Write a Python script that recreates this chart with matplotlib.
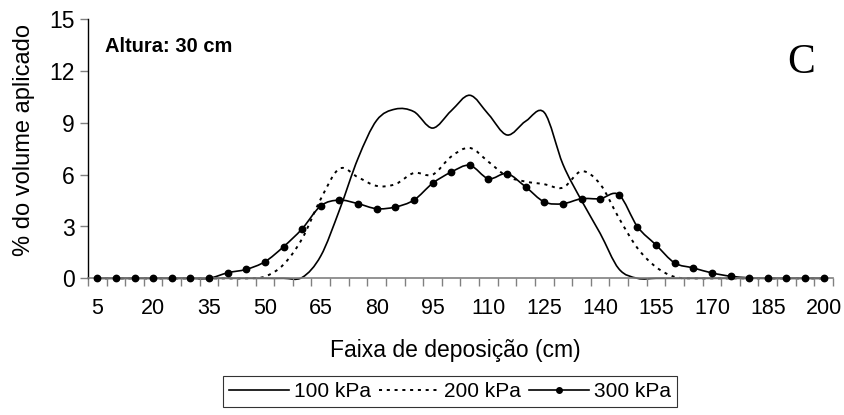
import numpy as np
import matplotlib
matplotlib.use("Agg")
import matplotlib.pyplot as plt
from matplotlib.path import Path
from matplotlib.patches import PathPatch
from matplotlib.lines import Line2D

plt.rcParams['font.family'] = ['Liberation Sans', 'DejaVu Sans']
plt.rcParams['lines.scale_dashes'] = False

# faixa de deposicao (cm), one category every 5 cm
faixa = list(range(5, 205, 5))

p100 = [0, 0, 0, 0, 0, 0, 0, 0, 0, 0, 0,
        0.05, 1.3, 3.95, 6.95, 9.15, 9.8, 9.65, 8.7, 9.7, 10.6,
        9.5, 8.3, 9.1, 9.6, 6.6, 4.5, 2.6, 0.55,
        0, 0, 0, 0, 0, 0, 0, 0, 0, 0, 0]
p200 = [0, 0, 0, 0, 0, 0, 0, 0, 0,
        0.1, 0.8, 2.3, 4.6, 6.35, 5.85, 5.35, 5.45, 6.1, 6.0, 7.05,
        7.55, 6.75, 5.9, 5.6, 5.45, 5.25, 6.2, 5.45, 3.5, 1.75,
        0.65, 0.08,
        0, 0, 0, 0, 0, 0, 0, 0]
p300 = [0, 0, 0, 0, 0, 0, 0,
        0.32, 0.52, 0.96, 1.83, 2.87, 4.2, 4.53, 4.32, 4.03, 4.13,
        4.53, 5.5, 6.15, 6.54, 5.77, 6.06, 5.29, 4.42, 4.32, 4.61,
        4.61, 4.84, 2.99, 1.93, 0.89, 0.6, 0.31, 0.12, 0.03,
        0, 0, 0, 0]

series_names = ['100 kPa', '200 kPa', '300 kPa']
tick_every = 3


def smooth_path(xs, ys):
    # excel-like smoothed line: cubic bezier through every point
    pts = np.column_stack([xs, ys]).astype(float)
    n = len(pts)
    verts = [pts[0]]
    codes = [Path.MOVETO]
    for i in range(n - 1):
        p0 = pts[i - 1] if i > 0 else pts[i]
        p1 = pts[i]
        p2 = pts[i + 1]
        p3 = pts[i + 2] if i + 2 < n else pts[i + 1]
        verts += [p1 + (p2 - p0) / 6, p2 - (p3 - p1) / 6, p2]
        codes += [Path.CURVE4] * 3
    return Path(verts, codes)


W, H = 845, 415
fig = plt.figure(figsize=(W / 100, H / 100), dpi=100)
ax = fig.add_axes([88 / W, 1 - 278.3 / H, 745 / W, 259 / H])

xi = np.arange(len(faixa))
dash = (0, (2.2, 3.4))

ax.add_patch(PathPatch(smooth_path(xi, p100), fill=False, lw=1.2,
                       edgecolor='black', clip_on=False))
ax.add_patch(PathPatch(smooth_path(xi, p200), fill=False, lw=1.4,
                       edgecolor='black', linestyle=dash, clip_on=False))
ax.add_patch(PathPatch(smooth_path(xi, p300), fill=False, lw=1.2,
                       edgecolor='black', clip_on=False))
ax.plot(xi, p300, 'o', color='black', ms=4.6, clip_on=False, zorder=5)

ax.set_xlim(-0.5, len(faixa) - 0.5)
ax.set_ylim(0, 15)
ax.set_yticks(range(0, 16, 3))

ax.set_xticks(xi[::tick_every])
ax.set_xticklabels([str(v) for v in faixa[::tick_every]], fontsize=15.5)
ax.set_xticks(np.arange(-0.5, len(faixa), 1), minor=True)
ax.tick_params(axis='x', which='major', length=0, pad=14)
ax.tick_params(axis='x', which='minor', length=6, width=1, color='#808080', direction='out')
ax.tick_params(axis='y', length=6, width=1, color='#808080', labelsize=16.5, pad=3.6)

for s in ['top', 'right']:
    ax.spines[s].set_visible(False)
ax.spines['bottom'].set_color('#808080')
ax.spines['bottom'].set_linewidth(1.2)
ax.spines['left'].set_color('black')
ax.spines['left'].set_linewidth(1.0)

fig.text(24 / W, 1 - 140.5 / H, '% do volume aplicado', rotation=90,
         ha='center', va='center', fontsize=17)
fig.text(455 / W, 1 - 357 / H, 'Faixa de deposição (cm)', ha='center',
         va='baseline', fontsize=16.5)
fig.text(105 / W, 1 - 51.7 / H, 'Altura: 30 cm', fontweight='bold',
         fontsize=14.5, va='baseline')
fig.text(801 / W, 1 - 73 / H, 'C', family='Liberation Serif', fontsize=30,
         ha='center', va='baseline')

handles = [Line2D([], [], color='black', lw=1.2),
           Line2D([], [], color='black', lw=1.4, linestyle=dash),
           Line2D([], [], color='black', lw=1.2, marker='o', ms=4)]
leg = fig.legend(handles, series_names, loc='center',
                 bbox_to_anchor=(450 / W, 1 - 391.5 / H), ncol=3,
                 fontsize=15, frameon=True, fancybox=False, edgecolor='black',
                 handlelength=2.9, handletextpad=0.25, columnspacing=0.35,
                 borderpad=0.3, borderaxespad=0)
leg.get_frame().set_linewidth(0.8)

fig.savefig('out.png', dpi=100)
